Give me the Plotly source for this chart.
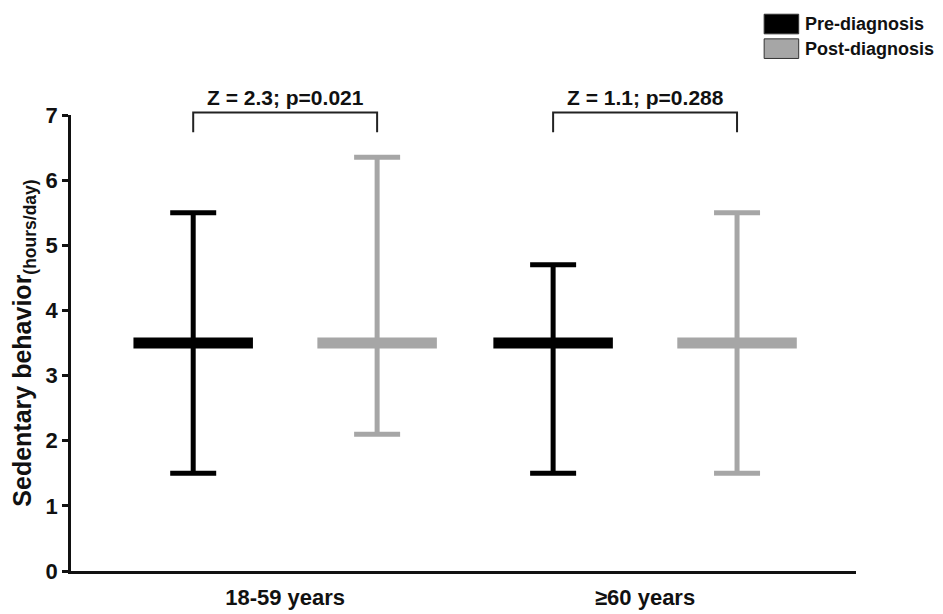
import plotly.graph_objects as go

# median and range per age group
groups = ["18-59 years", "≥60 years"]
pre_median = [3.5, 3.5]
pre_low = [1.5, 1.5]
pre_high = [5.5, 4.7]
post_median = [3.5, 3.5]
post_low = [2.1, 1.5]
post_high = [6.35, 5.5]
stats = ["Z = 2.3; p=0.021", "Z = 1.1; p=0.288"]

BLACK = "#000000"
GRAY = "#a6a6a6"
FONT = "Arial, Liberation Sans, sans-serif"

centers = [1, 2]
off = 0.2555      # distance of each series from group centre
half_bar = 0.166  # half width of the median bar

fig = go.Figure()


def add_series(pos, med, lo, hi, color, name):
    # median bar
    xs, ys = [], []
    for p, m in zip(pos, med):
        xs += [p - half_bar, p + half_bar, None]
        ys += [m, m, None]
    fig.add_trace(go.Scatter(x=xs, y=ys, mode="lines", name=name,
                             line=dict(color=color, width=11),
                             showlegend=False, hoverinfo="skip"))
    # range whiskers
    fig.add_trace(go.Scatter(
        x=pos, y=med, mode="markers", marker=dict(size=1, color=color, opacity=0),
        showlegend=False,
        error_y=dict(type="data", symmetric=False,
                     array=[h - m for h, m in zip(hi, med)],
                     arrayminus=[m - l for m, l in zip(med, lo)],
                     color=color, thickness=5, width=23)))


pre_pos = [c - off for c in centers]
post_pos = [c + off for c in centers]
add_series(pre_pos, pre_median, pre_low, pre_high, BLACK, "Pre-diagnosis")
add_series(post_pos, post_median, post_low, post_high, GRAY, "Post-diagnosis")

# significance brackets
for c, a, b, txt in zip(centers, pre_pos, post_pos, stats):
    fig.add_shape(type="path", xref="x", yref="paper",
                  path=f"M {a} 0.962 L {a} 1.0054 L {b} 1.0054 L {b} 0.962",
                  line=dict(color="#222222", width=2))
    fig.add_annotation(x=c, y=1.039, xref="x", yref="paper", text=f"<b>{txt}</b>",
                       showarrow=False, yanchor="middle",
                       font=dict(size=21, color="#111111", family=FONT))

# legend drawn by hand
for i, (name, color) in enumerate([("Pre-diagnosis", BLACK), ("Post-diagnosis", GRAY)]):
    top = 1.221 - i * 0.054
    fig.add_shape(type="rect", xref="paper", yref="paper",
                  x0=0.883, x1=0.927, y0=top - 0.043, y1=top,
                  fillcolor=color, line=dict(color="#333333", width=1))
    fig.add_annotation(x=0.932, y=top - 0.0215, xref="paper", yref="paper",
                       text=f"<b>{name}</b>", showarrow=False,
                       xanchor="left", yanchor="middle",
                       font=dict(size=18, color="#111111", family=FONT))

fig.update_layout(
    width=943, height=614,
    margin=dict(l=54, r=95, t=107, b=46),
    plot_bgcolor="white", paper_bgcolor="white",
    font=dict(family=FONT, color="#111111"),
    showlegend=False,
    xaxis=dict(range=[0.405, 2.586], tickvals=centers,
               ticktext=[f"<b>{g}</b>" for g in groups],
               showline=True, linecolor="#111111", linewidth=2.5,
               ticks="", showgrid=False, zeroline=False, ticklabelstandoff=5,
               tickfont=dict(size=22, family=FONT)),
    yaxis=dict(range=[0, 7], tickvals=list(range(8)),
               ticktext=[f"<b>{v}</b>" for v in range(8)],
               showline=True, linecolor="#111111", linewidth=2.5,
               ticks="outside", ticklen=6, tickwidth=2.5, tickcolor="#111111",
               showgrid=False, zeroline=False,
               tickfont=dict(size=22, family=FONT),
               title=dict(text="<b>Sedentary behavior<sub>(hours/day)</sub></b>",
                          font=dict(size=25, family=FONT), standoff=8)),
)

fig.write_html("out.html")
